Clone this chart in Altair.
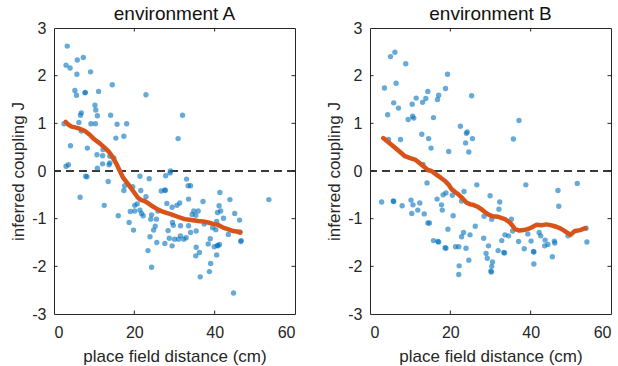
import altair as alt
import pandas as pd

# ---------------- data ----------------
titles = ["environment A", "environment B"]
x_title = "place field distance (cm)"
y_title = "inferred coupling J"
x_ticks = [0, 20, 40, 60]
y_ticks = [-3, -2, -1, 0, 1, 2, 3]
x_inner_ticks = [20, 40]
y_inner_ticks = [-2, -1, 0, 1, 2]

A_x = [3.3, 3.0, 4.0, 5.8, 7.3, 5.7, 9.1, 14.5, 5.2, 5.6, 7.7, 7.8, 11.1, 22.9, 10.2, 10.4,
       6.8, 6.6, 10.8, 14.1, 32.0, 6.2, 2.5, 9.2, 10.3, 15.7, 18.1, 6.8, 15.4, 17.4, 30.9,
       4.1, 8.3, 10.7, 12.1, 12.2, 13.9, 14.9, 3.0, 3.6, 10.8, 12.1, 13.7, 13.9, 29.0,
       7.9, 8.2, 6.5, 13.5, 12.5, 16.0, 17.4, 17.6, 19.6, 21.4, 23.7, 27.8, 28.9, 21.6,
       22.9, 18.7, 19.8, 19.0, 20.1, 20.1, 20.7, 21.4, 21.8, 22.2, 24.1, 24.3, 24.8, 25.2,
       25.5, 23.9, 23.4, 24.3, 25.6, 25.9, 26.7, 27.6, 27.7, 28.1, 27.6, 28.4, 28.7, 29.4,
       29.5, 29.4, 29.7, 30.0, 30.6, 31.3, 31.5, 31.5, 31.0, 32.3, 32.9, 33.0, 33.4, 34.0,
       33.5, 33.5, 34.0, 34.4, 34.8, 35.3, 35.4, 35.9, 35.4, 35.3, 36.2, 36.4, 37.1, 37.4,
       38.9, 38.4, 39.0, 38.7, 39.5, 39.9, 40.3, 40.5, 40.7, 40.8, 41.2, 40.5, 41.1, 40.7,
       41.5, 41.3, 42.2, 43.4, 43.8, 45.0, 46.2, 46.3, 46.5, 46.6, 44.7, 53.5]
A_y = [2.62, 2.22, 2.16, 2.33, 2.38, 2.03, 2.08, 1.81, 1.69, 1.59, 1.64, 1.65, 1.67, 1.60, 1.38, 1.28,
       1.22, 1.17, 1.16, 1.17, 1.17, 1.02, 0.99, 0.99, 0.99, 0.98, 0.99, 0.84, 0.69, 0.73, 0.68,
       0.53, 0.48, 0.34, 0.32, 0.45, 0.31, 0.27, 0.10, 0.13, 0.06, 0.15, 0.13, 0.17, 0.00,
       -0.11, -0.12, -0.55, -0.22, -0.72, -0.94, -0.41, -0.31, -0.33, -0.11, -0.16, -0.10, -0.04, -0.41,
       -0.54, -1.08, -1.24, -0.85, -0.84, -0.72, -0.69, -0.82, -0.89, -0.94, -1.01, -0.92, -1.24, -1.16,
       -1.01, -1.38, -1.67, -2.02, -1.50, -0.84, -0.42, -0.40, -0.41, -0.68, -1.52, -1.25, -1.41, -0.76,
       -1.08, -1.57, -1.14, -1.43, -0.72, -0.67, -1.15, -1.36, -1.43, -1.43, -1.40, -0.17, -0.31, -0.31,
       -0.59, -1.15, -1.29, -0.91, -0.84, -0.93, -1.26, -0.84, -1.60, -1.78, -1.71, -2.22, -0.64, -1.11,
       -1.42, -1.53, -1.94, -2.11, -1.19, -1.59, -1.23, -1.76, -1.56, -1.57, -1.54, -1.06, -0.73, -0.87,
       -0.84, -0.45, -0.99, -1.33, -0.60, -0.89, -1.03, -1.28, -1.48, -1.46, -2.56, -0.60]

A_line_x = [2.9, 3.6, 4.4, 6.0, 7.7, 8.9, 10.1, 11.4, 12.6, 13.7, 14.7, 15.6, 16.4, 17.2, 18.5,
            19.7, 20.9, 21.7, 22.6, 23.5, 24.3, 25.5, 26.7, 28.0, 29.2, 30.8, 32.5, 34.2, 35.9,
            37.2, 38.4, 39.6, 40.8, 41.7, 42.5, 43.6, 44.6, 45.5, 46.4]
A_line_y = [1.03, 0.97, 0.93, 0.90, 0.84, 0.76, 0.66, 0.58, 0.49, 0.40, 0.28, 0.14, 0.00, -0.14, -0.28,
            -0.42, -0.56, -0.61, -0.63, -0.68, -0.73, -0.79, -0.84, -0.88, -0.91, -0.96, -1.01, -1.03, -1.05,
            -1.06, -1.08, -1.11, -1.13, -1.17, -1.20, -1.23, -1.26, -1.27, -1.29]

B_x = [3.6, 4.4, 5.1, 6.2, 6.5, 5.9, 7.1, 8.9, 7.6, 9.5, 10.6, 10.9, 10.5, 11.5, 13.1, 13.9,
       14.4, 12.9, 14.6, 15.2, 15.8, 16.8, 17.1, 18.8, 19.3, 19.6, 22.5, 24.0, 24.2, 23.8,
       24.6, 25.5, 25.3, 35.7, 37.1, 4.6, 13.2,
       2.9, 5.8, 5.9, 8.0, 10.2, 10.7, 10.4, 12.4, 11.9, 13.5, 14.4, 14.8, 14.2, 15.8, 16.9,
       17.1, 16.7, 17.8, 18.0, 18.2, 18.9, 18.7, 18.9, 19.4, 20.7, 20.5, 21.3, 22.1, 22.2,
       22.1, 22.8, 23.3, 22.8, 23.4, 23.9, 24.6, 24.9, 26.2, 26.6, 28.3, 28.4, 28.9, 29.2,
       29.5, 29.9, 30.3, 30.5, 30.3, 30.1, 30.2, 31.9, 32.3, 32.1, 32.8, 33.3, 33.5, 33.6,
       34.5, 35.2, 35.5, 37.0, 38.4, 38.8, 39.3, 40.1, 40.7, 40.8, 40.8, 42.1, 42.5, 43.6,
       43.5, 44.3, 45.4, 45.9, 46.0, 46.8, 47.0, 49.3, 51.6, 53.8, 54.0]
B_y = [1.74, 1.18, 2.40, 2.49, 1.84, 1.43, 1.32, 2.25, 0.66, 1.08, 1.15, 1.11, 1.40, 1.53, 1.44, 1.52,
       1.67, 0.77, 0.68, 0.48, 1.12, 1.50, 1.59, 1.73, 2.03, 0.41, 0.94, 0.79, 0.82, 0.59,
       0.40, 0.68, 1.58, 0.67, 1.06, 0.66, 0.14,
       -0.65, -0.63, -0.64, -0.73, -0.61, -0.71, -0.89, -0.67, -0.82, -0.90, -1.09, -1.09, -0.25, -1.46, -1.48,
       -1.49, -0.59, -0.71, -0.82, -0.50, -0.46, -1.61, -1.62, -1.22, -0.94, -0.51, -1.59, -1.59, -1.99,
       -2.17, -1.38, -1.29, -0.63, -0.43, -1.62, -1.87, -1.34, -1.16, -0.29, -1.41, -0.95, -1.73, -1.83,
       -1.57, -0.52, -1.01, -1.91, -2.00, -2.10, -2.12, -1.67, -0.65, -0.80, -1.46, -1.71, -1.72, -1.34,
       -1.36, -1.01, -1.26, -1.48, -1.63, -0.29, -1.32, -1.47, -1.69, -1.70, -1.95, -1.29, -1.36, -1.45,
       -1.57, -1.54, -1.80, -1.47, -1.51, -0.41, -0.74, -1.36, -0.26, -1.20, -1.49]

B_line_x = [3.3, 4.5, 5.8, 7.2, 8.7, 10.0, 11.2, 12.3, 13.3, 14.4, 15.3, 16.6, 17.6, 18.7, 19.5,
            20.3, 21.2, 22.0, 23.0, 24.0, 25.0, 25.7, 26.8, 27.7, 28.6, 29.4, 30.6, 31.9, 32.8,
            33.6, 34.8, 35.5, 36.1, 37.2, 38.2, 39.2, 40.1, 41.4, 42.6, 43.9, 45.2, 46.4, 47.5,
            48.5, 49.9, 51.0, 52.3, 53.6]
B_line_y = [0.69, 0.61, 0.52, 0.42, 0.31, 0.27, 0.24, 0.17, 0.10, 0.02, 0.00, -0.08, -0.14, -0.21, -0.28,
            -0.38, -0.44, -0.49, -0.57, -0.66, -0.70, -0.71, -0.75, -0.80, -0.86, -0.91, -0.95, -0.96, -0.99,
            -1.01, -1.08, -1.15, -1.22, -1.25, -1.24, -1.22, -1.19, -1.13, -1.14, -1.12, -1.14, -1.17, -1.21,
            -1.26, -1.34, -1.26, -1.24, -1.20]

# ---------------- styling ----------------
W, H = 241, 286
FONT = "Liberation Sans"
BLUE = "#0072BD"
ORANGE = "#D95319"
TICK_LEN = 3.5
TITLE_SIZE = 19

xscale = alt.Scale(domain=[0, 60], nice=False, zero=False)
yscale = alt.Scale(domain=[-3, 3], nice=False, zero=False)

xaxis = alt.Axis(values=x_ticks, title=x_title, labelExpr="'' + datum.value",
                 minExtent=26, maxExtent=26, grid=False, domain=False, ticks=False,
                 labelPadding=10, titlePadding=8)
yaxis = alt.Axis(values=y_ticks, title=y_title, labelExpr="'' + datum.value",
                 minExtent=23, maxExtent=23, grid=False, domain=False, ticks=False,
                 labelPadding=8, titlePadding=4)

xt_df = pd.DataFrame({"t": x_inner_ticks})
yt_df = pd.DataFrame({"t": y_inner_ticks})


def panel(title, px, py, lx, ly):
    pts = pd.DataFrame({"x": px, "y": py})
    ln = pd.DataFrame({"x": lx, "y": ly, "o": list(range(len(lx)))})

    base_pts = alt.Chart(pts).mark_circle(size=29, color=BLUE, opacity=0.6).encode(
        x=alt.X("x:Q", scale=xscale, axis=xaxis),
        y=alt.Y("y:Q", scale=yscale, axis=yaxis),
    )
    zero = alt.Chart(pts).mark_rule(color="#3a3a3a", strokeDash=[8, 5], strokeWidth=1).encode(
        y=alt.datum(0)
    )
    line = alt.Chart(ln).mark_line(color=ORANGE, strokeWidth=4.5, strokeCap="round",
                                   strokeJoin="round").encode(
        x="x:Q", y="y:Q", order="o:Q"
    )
    tb = alt.Chart(xt_df).mark_rule(color="#262626").encode(
        x="t:Q", y=alt.value(H), y2=alt.value(H - TICK_LEN))
    tt = alt.Chart(xt_df).mark_rule(color="#262626").encode(
        x="t:Q", y=alt.value(0), y2=alt.value(TICK_LEN))
    tl = alt.Chart(yt_df).mark_rule(color="#262626").encode(
        y="t:Q", x=alt.value(0), x2=alt.value(TICK_LEN))
    tr = alt.Chart(yt_df).mark_rule(color="#262626").encode(
        y="t:Q", x=alt.value(W), x2=alt.value(W - TICK_LEN))

    return alt.layer(zero, base_pts, line, tb, tt, tl, tr).properties(
        width=W, height=H,
        title=alt.TitleParams(title, fontSize=TITLE_SIZE, font=FONT, fontWeight="normal",
                              color="#111", offset=-4),
    )


chart = alt.hconcat(
    panel(titles[0], A_x, A_y, A_line_x, A_line_y),
    panel(titles[1], B_x, B_y, B_line_x, B_line_y),
    spacing=28,
).properties(
    padding={"left": 8, "right": 0, "top": 4, "bottom": 0},
    background="white",
).configure_view(
    stroke="#262626", strokeWidth=1
).configure_axis(
    labelFont=FONT, labelFontSize=16, labelColor="#262626",
    titleFont=FONT, titleFontSize=17, titleFontWeight="normal", titleColor="#262626",
).configure_title(
    fontSize=TITLE_SIZE, font=FONT, fontWeight="normal", color="#111"
)

chart.save("out.html", embed_options={"renderer": "svg", "actions": False})
